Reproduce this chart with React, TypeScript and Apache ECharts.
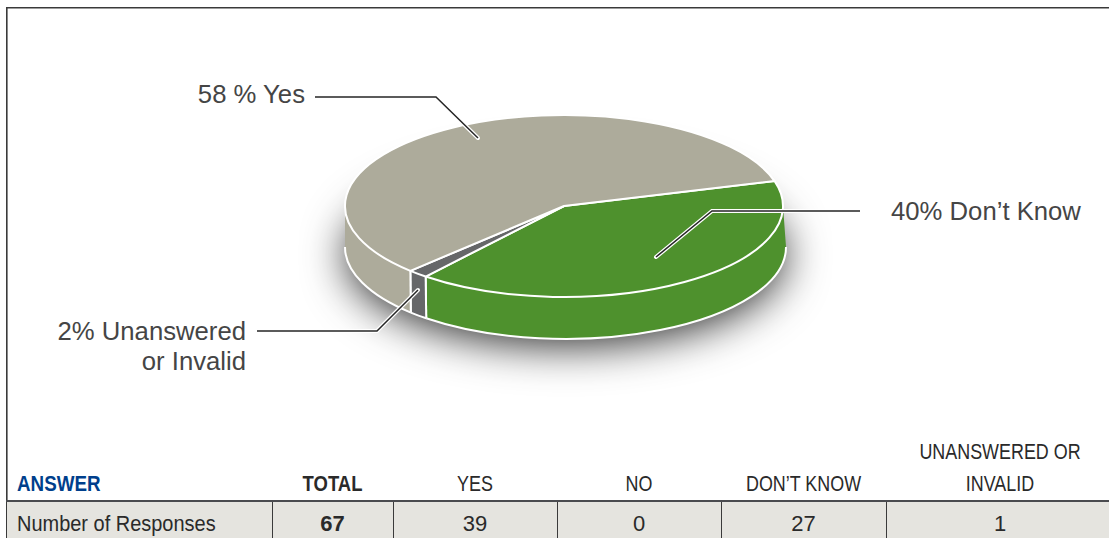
import React, { useEffect, useRef } from "react";
import * as echarts from "echarts";

const pieNames = ["Don't Know", "Unanswered or Invalid", "Yes"];
const pieValues = [27, 1, 39];
const pieColors = ["#4e912d", "#666769", "#adab9b"];
const tableHeaders = ["TOTAL", "YES", "NO", "DON\u2019T KNOW", "UNANSWERED OR\nINVALID"];
const tableValues = ["67", "39", "0", "27", "1"];
const rowLabel = "Number of Responses";
const headLabel = "ANSWER";

const START = -15.9;
const top = { cx: 564, cy: 206, rx: 219, ry: 91 };
const bot = { cx: 565.5, cy: 247, rx: 220.5, ry: 92 };
const rad = (d: number) => (d * Math.PI) / 180;
const pt = (e: typeof top, d: number) => [e.cx + e.rx * Math.cos(rad(d)), e.cy + e.ry * Math.sin(rad(d))];
const f = (p: number[]) => `${p[0].toFixed(2)} ${p[1].toFixed(2)}`;
const arc = (e: typeof top, a: number, b: number) => {
  const large = Math.abs(b - a) > 180 ? 1 : 0;
  return `A ${e.rx} ${e.ry} 0 ${large} ${b > a ? 1 : 0} ${f(pt(e, b))}`;
};

const total = pieValues.reduce((s, v) => s + v, 0);
const white = "#ffffff";
const SW = 2;

function renderSlice(params: any, api: any) {
  const i = params.dataIndex;
  const before = pieValues.slice(0, i).reduce((s, v) => s + v, 0);
  const a = START + (before / total) * 360;
  const b = a + (api.value(0) / total) * 360;
  const color = pieColors[i];
  const children: any[] = [];
  const t1 = Math.max(a, 0);
  const t2 = Math.min(b, 180);
  if (t1 < t2) {
    children.push({
      type: "path",
      shape: { pathData: `M ${f(pt(top, t1))} ${arc(top, t1, t2)} L ${f(pt(bot, t2))} ${arc(bot, t2, t1)} Z` },
      style: { fill: color, stroke: "none" },
    });
    children.push({
      type: "path",
      shape: { pathData: `M ${f(pt(bot, t1))} ${arc(bot, t1, t2)}` },
      style: { fill: "none", stroke: white, lineWidth: SW },
    });
    [a, b].forEach((e) => {
      if (e > 0 && e < 180) {
        children.push({
          type: "path",
          shape: { pathData: `M ${f(pt(top, e))} L ${f(pt(bot, e))}` },
          style: { fill: "none", stroke: white, lineWidth: SW },
        });
      }
    });
  }
  children.push({
    type: "path",
    shape: { pathData: `M ${top.cx} ${top.cy} L ${f(pt(top, a))} ${arc(top, a, b)} Z` },
    style: { fill: color, stroke: white, lineWidth: SW, lineJoin: "round" },
  });
  return { type: "group", children };
}

const leaders = [
  [[315, 97], [436, 97], [478, 138]],
  [[860, 211], [712, 211], [656, 257]],
  [[257, 331], [377, 331], [418, 290]],
];

const colX = [272, 393, 557, 721, 886, 1109];
const sans = "'Liberation Sans', sans-serif";

export default function App() {
  const ref = useRef<HTMLDivElement>(null);
  useEffect(() => {
    const chart = echarts.init(ref.current!, null, { renderer: "svg" });
    const graphic: any[] = [];
    const txt = (x: number, y: number, text: string, font: string, fill: string, align: string, scaleX: number, z = 3) => ({
      type: "text", z, x, y, scaleX,
      style: { text, font, fill, textAlign: align, textVerticalAlign: "middle" },
    });
    graphic.push({ type: "polyline", z: 1, shape: { points: [[6.8, 538], [6.8, 7.8], [1109, 7.8]] }, style: { fill: "none", stroke: "#3a3a3a", lineWidth: 1.6 } });
    graphic.push({ type: "rect", z: 1, shape: { x: 7, y: 502, width: 1102, height: 36 }, style: { fill: "#e5e4df" } });
    graphic.push({ type: "line", z: 1, shape: { x1: 6, y1: 501, x2: 1109, y2: 501 }, style: { stroke: "#4a4b4f", lineWidth: 2 } });
    colX.slice(0, 5).forEach((x) => {
      graphic.push({ type: "line", z: 2, shape: { x1: x + 0.5, y1: 502, x2: x + 0.5, y2: 538 }, style: { stroke: "#3a3a3a", lineWidth: 1 } });
    });
    graphic.push(txt(17, 483, headLabel, `bold 22px ${sans}`, "#003f8c", "left", 0.855));
    graphic.push(txt(17, 523, rowLabel, `22px ${sans}`, "#2a2a2a", "left", 0.908));
    tableHeaders.forEach((h, i) => {
      const cx = i === 4 ? 1000 : (colX[i] + colX[i + 1]) / 2;
      const lines = h.split("\n");
      const font = `${i === 0 ? "bold " : ""}22px ${sans}`;
      lines.forEach((line, j) => {
        graphic.push(txt(cx, 483 - (lines.length - 1 - j) * 32, line, font, "#2a2a2a", "center", i === 0 ? 0.84 : 0.815));
      });
      graphic.push(txt(cx, 523, tableValues[i], font, "#2a2a2a", "center", 1));
    });
    leaders.forEach((pts) => {
      graphic.push({ type: "polyline", z: 20, shape: { points: pts }, style: { fill: "none", stroke: white, lineWidth: 4, lineCap: "round" } });
      graphic.push({ type: "polyline", z: 21, shape: { points: pts }, style: { fill: "none", stroke: "#262626", lineWidth: 1.5 } });
    });
    const font = `25.7px ${sans}`;
    const ink = "#454545";
    graphic.push(txt(305, 94, "58 % Yes", font, ink, "right", 1, 22));
    graphic.push(txt(891, 211, "40% Don\u2019t Know", font, ink, "left", 1, 22));
    graphic.push(txt(246, 331, "2% Unanswered", font, ink, "right", 1, 22));
    graphic.push(txt(246, 361, "or Invalid", font, ink, "right", 1, 22));

    chart.setOption({
      animation: false,
      backgroundColor: "#ffffff",
      graphic,
      series: [
        {
          type: "custom",
          coordinateSystem: "none",
          silent: true,
          z: 4,
          data: [[1]],
          renderItem: () => ({
            type: "ellipse",
            shape: { cx: bot.cx, cy: bot.cy + 2, rx: bot.rx - 2, ry: bot.ry - 2 },
            style: { fill: "#777777", shadowBlur: 44, shadowColor: "rgba(0,0,0,0.85)", shadowOffsetX: 0, shadowOffsetY: 6 },
          }),
        },
        {
          type: "custom",
          coordinateSystem: "none",
          silent: true,
          z: 5,
          data: pieValues.map((v, i) => ({ name: pieNames[i], value: [v] })),
          renderItem: renderSlice,
        },
      ],
    });
    return () => chart.dispose();
  }, []);
  return <div ref={ref} style={{ position: "fixed", left: 0, top: 0, width: 1109, height: 538 }} />;
}
